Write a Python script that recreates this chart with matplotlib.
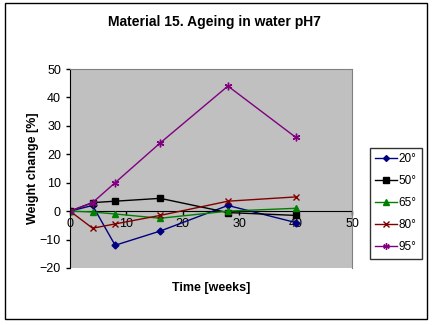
import matplotlib
matplotlib.use("Agg")
import matplotlib.pyplot as plt
from matplotlib.patches import Rectangle

plt.rcParams['font.family'] = ['Liberation Sans', 'DejaVu Sans']

weeks = [0, 4, 8, 16, 28, 40]
s20 = [0, 2, -12, -7, 2, -4]
s50 = [0, 3, 3.5, 4.5, -0.5, -1.5]
s65 = [0, -0.3, -1, -2.5, 0, 1]
s80 = [0, -6, -4.5, -1.5, 3.5, 5]
s95 = [0, 3, 10, 24, 44, 26]
labels = ['20°', '50°', '65°', '80°', '95°']
title = 'Material 15. Ageing in water pH7'
xlabel = 'Time [weeks]'
ylabel = 'Weight change [%]'

fig = plt.figure(figsize=(4.34, 3.25), dpi=100)
fig.patch.set_facecolor('white')
fig.patches.append(Rectangle((5/434, 6/325), 422/434, 316/325, transform=fig.transFigure,
                             fill=False, edgecolor='black', linewidth=1.0))

ax = fig.add_axes([70/434, (325-268)/325, 282/434, 199/325])
ax.set_facecolor('#C0C0C0')

styles = [
    dict(color='#000080', marker='D', markersize=3.5),
    dict(color='black', marker='s', markersize=4.5),
    dict(color='#008000', marker='^', markersize=5),
    dict(color='#800000', marker='x', markersize=4.5),
    dict(color='#800080', marker=(6, 2, 0), markersize=5.5),
]
for ys, lab, st in zip([s20, s50, s65, s80, s95], labels, styles):
    ax.plot(weeks, ys, label=lab, linewidth=1.0, markeredgewidth=1.0, **st)

ax.set_xlim(0, 50)
ax.set_ylim(-20, 50)
ax.set_xticks([0, 10, 20, 30, 40, 50])
ax.set_yticks([-20, -10, 0, 10, 20, 30, 40, 50])
ax.spines['bottom'].set_position(('data', 0))
ax.spines['bottom'].set_zorder(1)
ax.spines['top'].set_color('#808080')
ax.spines['right'].set_color('#808080')
ax.tick_params(axis='both', labelsize=9, length=3, width=1, direction='out')
ax.tick_params(axis='x', pad=2)

fig.text(214/434, 1 - 22/325, title, ha='center', va='center', fontsize=10, fontweight='bold')
fig.text(211/434, 1 - 288/325, xlabel, ha='center', va='center', fontsize=9, fontweight='bold')
fig.text(33/434, 1 - 168/325, ylabel, ha='center', va='center', fontsize=9, fontweight='bold', rotation=90)

leg = fig.legend(loc='upper left', bbox_to_anchor=(370/434, 1 - 148/325), fontsize=8.5,
                 frameon=True, fancybox=False, edgecolor='black', handlelength=1.8,
                 handletextpad=0.15, borderpad=0.45, labelspacing=0.85, borderaxespad=0,
                 markerscale=0.85)
leg.get_frame().set_linewidth(1.0)

fig.savefig('out.png', dpi=100)
